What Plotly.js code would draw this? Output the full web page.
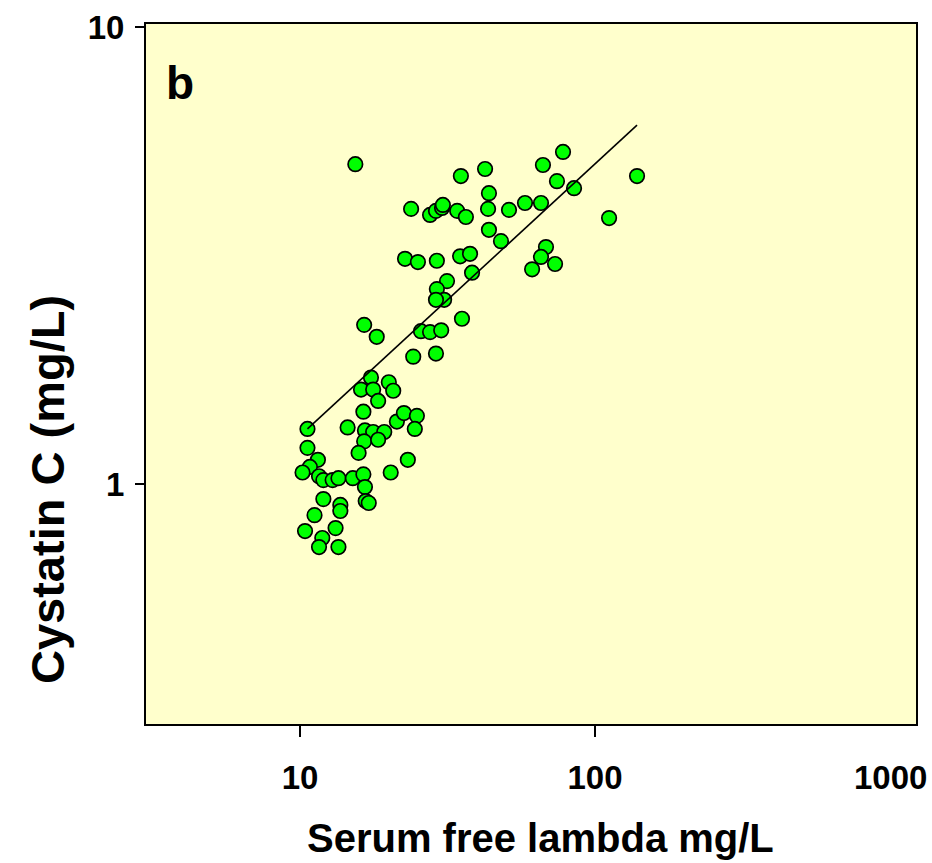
<!DOCTYPE html>
<html>
<head>
<meta charset="utf-8">
<script src="https://cdn.plot.ly/plotly-3.0.1.min.js"></script>
<style>
  html, body { margin: 0; padding: 0; background: #ffffff; }
  #chart { width: 932px; height: 863px; }
</style>
</head>
<body>
<div id="chart"></div>
<script>
// Serum free lambda (mg/L)
const lambdaValues = [
  15.4, 35.1, 42.4, 66.6, 77.9, 74.3, 84.9, 138.8, 43.7, 23.8,
  27.6, 28.9, 30.3, 30.5, 34.1, 36.5, 43.4, 51.1, 57.9, 65.6,
  111.6, 43.7, 48.0, 68.2, 65.6, 61.2, 73.2, 22.7, 25.1, 29.1,
  34.9, 37.7, 38.3, 31.5, 29.1, 30.8, 28.9, 35.4, 16.5, 18.2,
  25.7, 27.6, 30.1, 28.9, 24.2, 17.4, 20.0, 16.1, 17.7, 20.7,
  18.4, 16.4, 10.6, 14.5, 21.3, 22.5, 24.9, 24.5, 16.6, 17.7,
  19.3, 16.5, 18.4, 15.8, 10.6, 23.2, 20.3, 11.5, 10.8, 10.2,
  11.6, 12.0, 12.9, 13.5, 15.1, 16.4, 16.6, 16.7, 17.1, 12.0,
  13.7, 13.7, 11.2, 10.4, 11.9, 13.2, 11.6, 13.5
];
// Cystatin C (mg/L)
const cystatinValues = [
  5.01, 4.72, 4.89, 4.99, 5.33, 4.60, 4.44, 4.72, 4.33, 4.00,
  3.88, 3.96, 4.02, 4.08, 3.96, 3.84, 4.00, 3.98, 4.12, 4.12,
  3.82, 3.60, 3.40, 3.30, 3.14, 2.95, 3.03, 3.11, 3.06, 3.08,
  3.15, 3.19, 2.90, 2.78, 2.67, 2.53, 2.53, 2.30, 2.23, 2.10,
  2.16, 2.15, 2.17, 1.93, 1.90, 1.71, 1.67, 1.61, 1.61, 1.60,
  1.52, 1.44, 1.32, 1.33, 1.37, 1.43, 1.41, 1.32, 1.31, 1.30,
  1.30, 1.24, 1.25, 1.17, 1.20, 1.13, 1.06, 1.13, 1.09, 1.06,
  1.04, 1.02, 1.02, 1.03, 1.03, 1.05, 0.985, 0.918, 0.909, 0.927,
  0.90, 0.873, 0.855, 0.789, 0.762, 0.801, 0.728, 0.728
];
// Regression line end points
const fitLambda = [10.6, 138.8];
const fitCystatin = [1.32, 6.10];

const xTickValues = [10, 100];
const xTickLabels = ['10', '100'];
const xExtraLabelValue = 1000;
const xExtraLabel = '1000';
const yTickValues = [1, 10];
const yTickLabels = ['1', '10'];

const xTitle = 'Serum free lambda mg/L';
const yTitle = 'Cystatin C (mg/L)';
const panelLabel = 'b';

const fontFamily = '"Liberation Sans", Arial, Helvetica, sans-serif';
const tickFont = { size: 33, weight: 'bold', family: fontFamily, color: '#000000' };

const traces = [
  {
    type: 'scatter', mode: 'markers',
    x: lambdaValues, y: cystatinValues,
    marker: { size: 14.5, color: '#00ff00', line: { color: '#000000', width: 1.7 } },
    hoverinfo: 'x+y', showlegend: false
  },
  {
    type: 'scatter', mode: 'lines',
    x: fitLambda, y: fitCystatin,
    line: { color: '#000000', width: 1.6 },
    hoverinfo: 'skip', showlegend: false
  }
];

const layout = {
  width: 932, height: 863,
  margin: { l: 146, r: 16, t: 24, b: 139, pad: 0 },
  paper_bgcolor: '#ffffff',
  plot_bgcolor: '#ffffcc',
  showlegend: false,
  font: { family: fontFamily, color: '#000000' },
  xaxis: {
    type: 'log',
    range: [0.478, 3.088],
    tickmode: 'array', tickvals: xTickValues, ticktext: xTickLabels,
    ticks: 'outside', ticklen: 11, tickwidth: 1.5, tickcolor: '#000000',
    ticklabelstandoff: 12,
    tickfont: tickFont,
    showline: true, mirror: true, linecolor: '#000000', linewidth: 2,
    showgrid: false, zeroline: false,
    automargin: false
  },
  yaxis: {
    type: 'log',
    range: [-0.525, 1.0066],
    tickmode: 'array', tickvals: yTickValues, ticktext: yTickLabels,
    ticks: 'outside', ticklen: 9, tickwidth: 1.5, tickcolor: '#000000',
    ticklabelstandoff: 4,
    tickfont: tickFont,
    showline: true, mirror: true, linecolor: '#000000', linewidth: 2,
    showgrid: false, zeroline: false,
    automargin: false
  },
  annotations: [
    {
      text: panelLabel, xref: 'paper', yref: 'paper',
      x: 0.024, y: 0.915, xanchor: 'left', yanchor: 'middle',
      showarrow: false,
      font: { size: 46, weight: 'bold', family: fontFamily, color: '#000000' }
    },
    {
      text: xExtraLabel, xref: 'x', yref: 'paper',
      x: Math.log10(xExtraLabelValue), y: -0.0771, xanchor: 'center', yanchor: 'middle',
      showarrow: false, font: tickFont
    },
    {
      text: xTitle, xref: 'paper', yref: 'paper',
      x: (540 - 146) / 770, y: (724 - 838) / 700, xanchor: 'center', yanchor: 'middle',
      showarrow: false,
      font: { size: 40, weight: 'bold', family: fontFamily, color: '#000000' }
    },
    {
      text: yTitle, xref: 'paper', yref: 'paper',
      x: (47 - 146) / 770, y: (724 - 490) / 700, xanchor: 'center', yanchor: 'middle',
      textangle: -90,
      showarrow: false,
      font: { size: 47, weight: 'bold', family: fontFamily, color: '#000000' }
    }
  ]
};

Plotly.newPlot('chart', traces, layout, { staticPlot: true, displayModeBar: false });
</script>
</body>
</html>
